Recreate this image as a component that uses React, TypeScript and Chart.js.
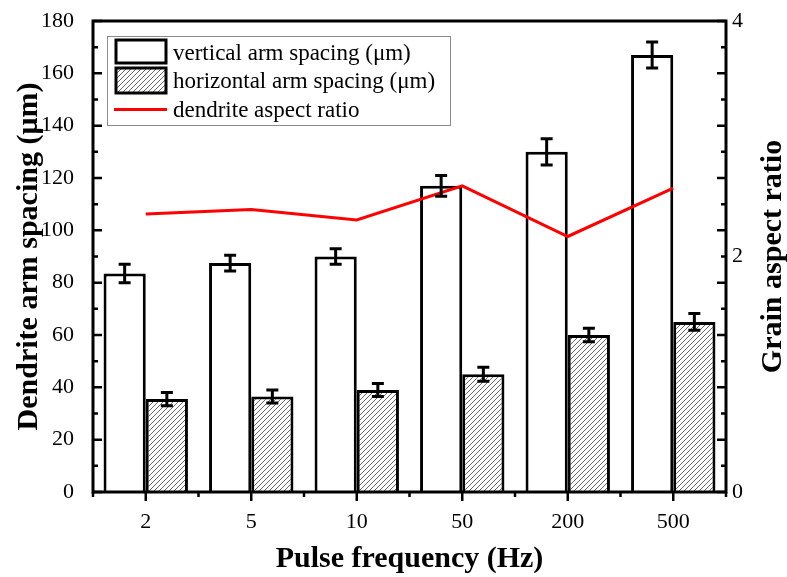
import React, { useEffect, useRef } from "react";
import { Chart, registerables } from "chart.js";

Chart.register(...registerables);

const categories = ["2", "5", "10", "50", "200", "500"];
const verticalSpacing = [83.5, 87.5, 90, 117, 130, 167];
const verticalErr = [3.5, 3, 3, 4, 5, 5];
const horizontalSpacing = [35.5, 36.5, 39, 45, 60, 65];
const horizontalErr = [2.5, 2.5, 2.5, 2.7, 2.6, 3.2];
const aspectRatio = [2.36, 2.4, 2.31, 2.6, 2.17, 2.58];

const legendLabels = [
  "vertical arm spacing (\u03bcm)",
  "horizontal arm spacing (\u03bcm)",
  "dendrite aspect ratio",
];
const xTitle = "Pulse frequency (Hz)";
const yTitle = "Dendrite arm spacing (\u03bcm)";
const y1Title = "Grain aspect ratio";

const FONT = "'Liberation Serif', 'DejaVu Serif', serif";

export default function App() {
  const ref = useRef<HTMLCanvasElement | null>(null);

  useEffect(() => {
    const canvas = ref.current;
    if (!canvas) return;
    const ctx0 = canvas.getContext("2d")!;

    const pc = document.createElement("canvas");
    pc.width = 5;
    pc.height = 5;
    const p = pc.getContext("2d")!;
    p.fillStyle = "#ffffff";
    p.fillRect(0, 0, 5, 5);
    p.strokeStyle = "#555555";
    p.lineWidth = 0.9;
    p.beginPath();
    p.moveTo(0, 5);
    p.lineTo(5, 0);
    p.moveTo(-1, 1);
    p.lineTo(1, -1);
    p.moveTo(4, 6);
    p.lineTo(6, 4);
    p.stroke();
    const hatch = ctx0.createPattern(pc, "repeat")!;

    const errors = [verticalErr, horizontalErr];
    const values = [verticalSpacing, horizontalSpacing];

    const decorPlugin = {
      id: "decor",
      afterDatasetsDraw(chart: any) {
        const { ctx, scales } = chart;
        ctx.save();
        ctx.strokeStyle = "#000";
        ctx.lineWidth = 3;
        for (let d = 0; d < 2; d++) {
          const meta = chart.getDatasetMeta(d);
          meta.data.forEach((bar: any, i: number) => {
            const v = values[d][i];
            const e = errors[d][i];
            const yT = scales.y.getPixelForValue(v + e);
            const yB = scales.y.getPixelForValue(v - e);
            const x = bar.x;
            ctx.beginPath();
            ctx.moveTo(x, yT);
            ctx.lineTo(x, yB);
            ctx.moveTo(x - 6, yT);
            ctx.lineTo(x + 6, yT);
            ctx.moveTo(x - 6, yB);
            ctx.lineTo(x + 6, yB);
            ctx.stroke();
          });
        }
        ctx.restore();
      },
      afterDraw(chart: any) {
        const { ctx, chartArea, scales } = chart;
        const { left, right, top, bottom } = chartArea;
        ctx.save();
        ctx.strokeStyle = "#000";
        ctx.lineWidth = 2.5;
        ctx.beginPath();
        for (let v = 0; v <= 180; v += 10) {
          const y = scales.y.getPixelForValue(v);
          const len = v % 20 === 0 ? 9 : 5;
          ctx.moveTo(left, y);
          ctx.lineTo(left + len, y);
          ctx.moveTo(right, y);
          ctx.lineTo(right - len, y);
        }
        const n = categories.length;
        const w = (right - left) / n;
        for (let i = 0; i < n; i++) {
          const x = scales.x.getPixelForValue(i);
          ctx.moveTo(x, bottom);
          ctx.lineTo(x, bottom + 9);
        }
        for (let i = 0; i <= n; i++) {
          const x = left + i * w;
          ctx.moveTo(x, bottom);
          ctx.lineTo(x, bottom + 5);
        }
        ctx.stroke();
        ctx.lineWidth = 3;
        ctx.strokeRect(left, top, right - left, bottom - top);

        // legend
        ctx.lineWidth = 1;
        ctx.strokeStyle = "#8a8a8a";
        ctx.strokeRect(107.5, 36.5, 343, 89);
        ctx.lineWidth = 3;
        ctx.strokeStyle = "#000";
        ctx.fillStyle = "#fff";
        ctx.fillRect(116, 40, 50, 23);
        ctx.strokeRect(116, 40, 50, 23);
        ctx.fillStyle = hatch;
        ctx.fillRect(116, 68, 50, 25);
        ctx.strokeRect(116, 68, 50, 25);
        ctx.strokeStyle = "#ff0000";
        ctx.beginPath();
        ctx.moveTo(114, 109.5);
        ctx.lineTo(167, 109.5);
        ctx.stroke();
        ctx.fillStyle = "#000";
        ctx.font = `23px ${FONT}`;
        ctx.textAlign = "left";
        ctx.textBaseline = "alphabetic";
        ctx.fillText(legendLabels[0], 173, 60);
        ctx.fillText(legendLabels[1], 173, 88);
        ctx.fillText(legendLabels[2], 173, 117);

        // axis titles
        ctx.font = `bold 30px ${FONT}`;
        ctx.textAlign = "center";
        ctx.fillText(xTitle, (left + right) / 2, 567);
        const cy = (top + bottom) / 2;
        ctx.save();
        ctx.translate(37, cy);
        ctx.rotate(-Math.PI / 2);
        ctx.fillText(yTitle, 0, 0);
        ctx.restore();
        ctx.save();
        ctx.translate(781, cy);
        ctx.rotate(-Math.PI / 2);
        ctx.fillText(y1Title, 0, 0);
        ctx.restore();
        ctx.restore();
      },
    };

    const tickFont = { family: FONT, size: 22 };
    const yTickFont = { family: FONT, size: 22, lineHeight: 0.18 };

    const chart = new Chart(canvas, {
      type: "bar",
      data: {
        labels: categories,
        datasets: [
          {
            type: "bar",
            label: legendLabels[0],
            data: verticalSpacing,
            backgroundColor: "#ffffff",
            borderColor: "#000000",
            borderWidth: 3,
            categoryPercentage: 0.8,
            barPercentage: 1,
            yAxisID: "y",
            order: 1,
          },
          {
            type: "bar",
            label: legendLabels[1],
            data: horizontalSpacing,
            backgroundColor: hatch as any,
            borderColor: "#000000",
            borderWidth: 3,
            categoryPercentage: 0.8,
            barPercentage: 1,
            yAxisID: "y",
            order: 1,
          },
          {
            type: "line",
            label: legendLabels[2],
            data: aspectRatio,
            borderColor: "#ff0000",
            borderWidth: 3,
            pointRadius: 0,
            fill: false,
            tension: 0,
            yAxisID: "y1",
            order: 0,
          } as any,
        ],
      },
      options: {
        responsive: false,
        animation: false,
        layout: { padding: { top: 21, left: 0, right: 0, bottom: 0 } },
        plugins: { legend: { display: false }, tooltip: { enabled: false } },
        scales: {
          x: {
            grid: { display: false, drawTicks: false },
            border: { display: false },
            ticks: { font: tickFont, color: "#000", padding: 17, maxRotation: 0 },
            afterFit: (s: any) => {
              s.height = 85;
            },
          },
          y: {
            position: "left",
            min: 0,
            max: 180,
            grid: { display: false, drawTicks: false },
            border: { display: false },
            ticks: { stepSize: 20, font: yTickFont, color: "#000", padding: 19 },
            afterFit: (s: any) => {
              s.width = 93;
            },
          },
          y1: {
            position: "right",
            min: 0,
            max: 4,
            grid: { display: false, drawTicks: false },
            border: { display: false },
            ticks: { stepSize: 2, font: yTickFont, color: "#000", padding: 6 },
            afterFit: (s: any) => {
              s.width = 61;
            },
          },
        },
      } as any,
      plugins: [decorPlugin],
    });

    return () => chart.destroy();
  }, []);

  return (
    <div style={{ position: "absolute", left: 0, top: 0, width: 787, height: 577, background: "#fff" }}>
      <canvas ref={ref} width={787} height={577} style={{ display: "block" }} />
    </div>
  );
}
